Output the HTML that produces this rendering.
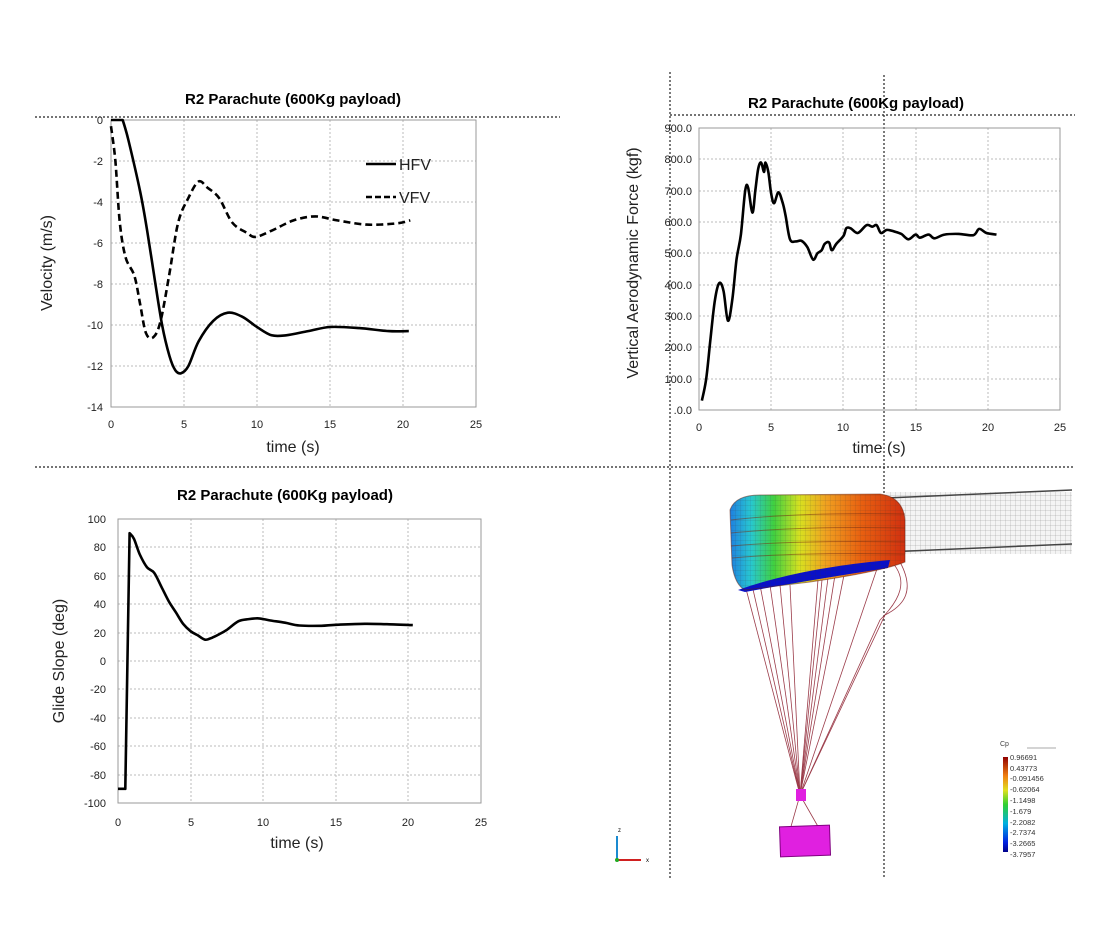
<!DOCTYPE html>
<html><head><meta charset="utf-8"><style>
html,body{margin:0;padding:0;background:#fff;}
svg{display:block;font-family:"Liberation Sans",sans-serif;}
.t{font-weight:bold;font-size:15px;text-anchor:middle;}
.tk{font-size:11px;fill:#222;}
.al{font-size:16px;fill:#222;}
.g{stroke:#bbb;stroke-dasharray:2,2;stroke-width:1;}
.dot{stroke:#222;stroke-dasharray:2,2;stroke-width:1.2;}
.ln{fill:none;stroke:#000;stroke-width:2.6;stroke-linejoin:round;}
</style></head><body>
<svg width="1105" height="949" viewBox="0 0 1105 949">
<rect width="1105" height="949" fill="#fff"/>
<defs>
<linearGradient id="cg" x1="0" x2="1" y1="0" y2="0">
<stop offset="0" stop-color="#1e7fe0"/><stop offset="0.12" stop-color="#28c8d0"/>
<stop offset="0.25" stop-color="#40d040"/><stop offset="0.4" stop-color="#d8e020"/>
<stop offset="0.55" stop-color="#f0a020"/><stop offset="0.75" stop-color="#e86010"/>
<stop offset="1" stop-color="#d03010"/></linearGradient>
<linearGradient id="cb" x1="0" x2="0" y1="1" y2="0">
<stop offset="0" stop-color="#00008a"/><stop offset="0.1" stop-color="#0020e0"/>
<stop offset="0.3" stop-color="#00b0e0"/><stop offset="0.5" stop-color="#30d030"/>
<stop offset="0.65" stop-color="#e0e020"/><stop offset="0.8" stop-color="#f08010"/>
<stop offset="1" stop-color="#900000"/></linearGradient>
<pattern id="mesh" width="5" height="5" patternUnits="userSpaceOnUse"><path d="M0 0H5M0 0V5" stroke="#333" stroke-width="0.4" fill="none"/></pattern>
</defs>

<line class="dot" x1="35" y1="117" x2="560" y2="117"/>
<line class="dot" x1="670" y1="115" x2="1075" y2="115"/>
<line class="dot" x1="35" y1="467" x2="1075" y2="467"/>
<line class="dot" x1="670" y1="72" x2="670" y2="878"/>
<line class="dot" x1="884" y1="75" x2="884" y2="878"/>

<!-- Chart 1 -->
<text class="t" x="293" y="104">R2 Parachute (600Kg payload)</text>
<g id="c1">
<line class="g" x1="111" y1="161" x2="476" y2="161"/><line class="g" x1="111" y1="202" x2="476" y2="202"/>
<line class="g" x1="111" y1="243" x2="476" y2="243"/><line class="g" x1="111" y1="284" x2="476" y2="284"/>
<line class="g" x1="111" y1="325" x2="476" y2="325"/><line class="g" x1="111" y1="366" x2="476" y2="366"/>
<line class="g" x1="184" y1="120" x2="184" y2="407"/><line class="g" x1="257" y1="120" x2="257" y2="407"/>
<line class="g" x1="330" y1="120" x2="330" y2="407"/><line class="g" x1="403" y1="120" x2="403" y2="407"/>
<rect x="111" y="120" width="365" height="287" fill="none" stroke="#999"/>
<g class="tk" text-anchor="end">
<text x="103" y="124">0</text><text x="103" y="165">-2</text><text x="103" y="206">-4</text><text x="103" y="247">-6</text>
<text x="103" y="288">-8</text><text x="103" y="329">-10</text><text x="103" y="370">-12</text><text x="103" y="411">-14</text></g>
<g class="tk" text-anchor="middle">
<text x="111" y="428">0</text><text x="184" y="428">5</text><text x="257" y="428">10</text><text x="330" y="428">15</text><text x="403" y="428">20</text><text x="476" y="428">25</text></g>
<text class="al" x="293" y="452" text-anchor="middle">time (s)</text>
<text class="al" transform="translate(52 263) rotate(-90)" text-anchor="middle">Velocity (m/s)</text>
<line x1="366" y1="164" x2="396" y2="164" stroke="#000" stroke-width="2.4"/>
<text x="399" y="170" font-size="16" fill="#222">HFV</text>
<line x1="366" y1="197" x2="396" y2="197" stroke="#000" stroke-width="2.4" stroke-dasharray="6,3"/>
<text x="399" y="203" font-size="16" fill="#222">VFV</text>
</g>

<!-- Chart 2 -->
<text class="t" x="856" y="108">R2 Parachute (600Kg payload)</text>
<g id="c2">
<line class="g" x1="699" y1="159" x2="1060" y2="159"/><line class="g" x1="699" y1="191" x2="1060" y2="191"/>
<line class="g" x1="699" y1="222" x2="1060" y2="222"/><line class="g" x1="699" y1="253" x2="1060" y2="253"/>
<line class="g" x1="699" y1="285" x2="1060" y2="285"/><line class="g" x1="699" y1="316" x2="1060" y2="316"/>
<line class="g" x1="699" y1="347" x2="1060" y2="347"/><line class="g" x1="699" y1="379" x2="1060" y2="379"/>
<line class="g" x1="771" y1="128" x2="771" y2="410"/><line class="g" x1="843" y1="128" x2="843" y2="410"/>
<line class="g" x1="916" y1="128" x2="916" y2="410"/><line class="g" x1="988" y1="128" x2="988" y2="410"/>
<rect x="699" y="128" width="361" height="282" fill="none" stroke="#999"/>
<g class="tk" text-anchor="end">
<text x="692" y="132">900.0</text><text x="692" y="163">800.0</text><text x="692" y="195">700.0</text><text x="692" y="226">600.0</text>
<text x="692" y="257">500.0</text><text x="692" y="289">400.0</text><text x="692" y="320">300.0</text><text x="692" y="351">200.0</text>
<text x="692" y="383">100.0</text><text x="692" y="414">.0.0</text></g>
<g class="tk" text-anchor="middle">
<text x="699" y="431">0</text><text x="771" y="431">5</text><text x="843" y="431">10</text><text x="916" y="431">15</text><text x="988" y="431">20</text><text x="1060" y="431">25</text></g>
<text class="al" x="879" y="453" text-anchor="middle">time (s)</text>
<text class="al" transform="translate(638 263) rotate(-90)" text-anchor="middle">Vertical Aerodynamic Force (kgf)</text>
</g>

<!-- Chart 3 -->
<text class="t" x="285" y="500">R2 Parachute (600Kg payload)</text>
<g id="c3">
<line class="g" x1="118" y1="547" x2="481" y2="547"/><line class="g" x1="118" y1="576" x2="481" y2="576"/>
<line class="g" x1="118" y1="604" x2="481" y2="604"/><line class="g" x1="118" y1="633" x2="481" y2="633"/>
<line class="g" x1="118" y1="661" x2="481" y2="661"/><line class="g" x1="118" y1="689" x2="481" y2="689"/>
<line class="g" x1="118" y1="718" x2="481" y2="718"/><line class="g" x1="118" y1="746" x2="481" y2="746"/>
<line class="g" x1="118" y1="775" x2="481" y2="775"/>
<line class="g" x1="191" y1="519" x2="191" y2="803"/><line class="g" x1="263" y1="519" x2="263" y2="803"/>
<line class="g" x1="336" y1="519" x2="336" y2="803"/><line class="g" x1="408" y1="519" x2="408" y2="803"/>
<rect x="118" y="519" width="363" height="284" fill="none" stroke="#999"/>
<g class="tk" text-anchor="end">
<text x="106" y="523">100</text><text x="106" y="551">80</text><text x="106" y="580">60</text><text x="106" y="608">40</text>
<text x="106" y="637">20</text><text x="106" y="665">0</text><text x="106" y="693">-20</text><text x="106" y="722">-40</text>
<text x="106" y="750">-60</text><text x="106" y="779">-80</text><text x="106" y="807">-100</text></g>
<g class="tk" text-anchor="middle">
<text x="118" y="826">0</text><text x="191" y="826">5</text><text x="263" y="826">10</text><text x="336" y="826">15</text><text x="408" y="826">20</text><text x="481" y="826">25</text></g>
<text class="al" x="297" y="848" text-anchor="middle">time (s)</text>
<text class="al" transform="translate(64 661) rotate(-90)" text-anchor="middle">Glide Slope (deg)</text>
</g>

<!-- Parachute illustration -->
<g>
<rect x="886" y="492" width="186" height="62" fill="#f4f4f4"/>
<rect x="886" y="492" width="186" height="62" fill="url(#mesh)" opacity="0.6"/>
<path d="M886 498 L1072 490 M886 552 L1072 544" stroke="#444" stroke-width="1.5"/>
<g stroke="#8a1a2a" stroke-width="0.8" fill="none" opacity="0.85">
<path d="M745 585 L800 795"/><path d="M752 585 L800 795"/><path d="M760 585 L800 795"/><path d="M770 585 L800 795"/>
<path d="M780 585 L800 795"/><path d="M790 585 L800 795"/><path d="M818 580 L800 795"/><path d="M822 580 L800 795"/>
<path d="M828 578 L800 795"/><path d="M835 575 L800 795"/><path d="M845 570 L800 795"/><path d="M880 560 L800 795"/>
<path d="M890 560 C910 580 900 600 880 620 L800 795"/><path d="M900 562 C915 590 905 605 885 615 L800 795"/>
<path d="M800 795 L790 830 M800 795 L820 830"/>
</g>
<path d="M730 510 Q735 495 760 495 L880 494 Q903 497 905 520 L905 562 Q880 572 810 582 L745 590 Q735 585 732 565 Z" fill="url(#cg)"/>
<g stroke="#7a3010" stroke-width="1" opacity="0.5" fill="none">
<path d="M731 520 Q800 512 905 514"/><path d="M731 533 Q800 526 905 528"/><path d="M731 546 Q800 540 905 542"/><path d="M732 558 Q800 552 905 554"/></g>
<path d="M738 590 Q800 568 890 560 L888 568 Q810 580 745 592 Z" fill="#0a10c8"/>
<path d="M730 510 Q735 495 760 495 L880 494 Q903 497 905 520 L905 562 Q880 572 810 582 L745 590 Q735 585 732 565 Z" fill="url(#mesh)" opacity="0.5" stroke="#602010" stroke-width="1"/>
<rect x="796" y="789" width="10" height="12" fill="#e020e0"/>
<rect x="780" y="826" width="50" height="30" fill="#e020e0" stroke="#800080" transform="rotate(-2 805 841)"/>
<rect x="1003" y="757" width="5" height="95" fill="url(#cb)"/>
<text x="1000" y="746" font-size="7" fill="#444">Cp</text>
<line x1="1027" y1="748" x2="1056" y2="748" stroke="#aaa"/>
<g font-size="7.5" fill="#333">
<text x="1010" y="760">0.96691</text><text x="1010" y="771">0.43773</text><text x="1010" y="781">-0.091456</text>
<text x="1010" y="792">-0.62064</text><text x="1010" y="803">-1.1498</text><text x="1010" y="814">-1.679</text>
<text x="1010" y="825">-2.2082</text><text x="1010" y="835">-2.7374</text><text x="1010" y="846">-3.2665</text><text x="1010" y="857">-3.7957</text></g>
<line x1="617" y1="860" x2="617" y2="836" stroke="#1a8ad0" stroke-width="2"/>
<line x1="617" y1="860" x2="641" y2="860" stroke="#d02020" stroke-width="2"/>
<circle cx="617" cy="860" r="2" fill="#2a2"/>
<text x="618" y="832" font-size="6">z</text><text x="646" y="862" font-size="6">x</text>
</g>
</svg>
<script>
function smooth(P,k){var d='M'+P[0][0].toFixed(1)+' '+P[0][1].toFixed(1);
for(var i=0;i<P.length-1;i++){var p1=P[i],p2=P[i+1];
if(i<k){d+=' L'+p2[0].toFixed(1)+' '+p2[1].toFixed(1);continue;}
var p0=(i-1>=k)?P[i-1]:P[i],p3=P[i+2]||p2;
var c1x=p1[0]+(p2[0]-p0[0])/6,c1y=p1[1]+(p2[1]-p0[1])/6,c2x=p2[0]-(p3[0]-p1[0])/6,c2y=p2[1]-(p3[1]-p1[1])/6;
d+=' C'+c1x.toFixed(1)+' '+c1y.toFixed(1)+' '+c2x.toFixed(1)+' '+c2y.toFixed(1)+' '+p2[0].toFixed(1)+' '+p2[1].toFixed(1);}
return d;}
function draw(gid,pts,fx,fy,dash,k){var P=pts.map(function(p){return [fx(p[0]),fy(p[1])]});
var e=document.createElementNS('http://www.w3.org/2000/svg','path');
e.setAttribute('d',smooth(P,k||0));e.setAttribute('class','ln');if(dash)e.setAttribute('stroke-dasharray',dash);
document.getElementById(gid).appendChild(e);}
var hfv=[[0,0],[0.8,0],[1.2,-1],[2,-3.5],[2.5,-5.5],[3,-7.8],[3.5,-10],[4,-11.5],[4.4,-12.2],[4.8,-12.35],[5.3,-12],[6,-10.8],[7,-9.8],[8,-9.4],[9,-9.6],[10,-10.1],[11,-10.5],[12,-10.5],[13.5,-10.3],[15,-10.1],[17,-10.15],[19,-10.3],[20.4,-10.3]];
var vfv=[[0,-0.3],[0.3,-2],[0.6,-5],[1,-6.7],[1.6,-7.6],[2,-9],[2.4,-10.4],[2.9,-10.6],[3.4,-9.8],[4,-7.5],[4.6,-5],[5.3,-3.8],[6,-3],[6.6,-3.3],[7.4,-3.8],[8.3,-5],[9.3,-5.5],[9.9,-5.7],[11,-5.4],[12.5,-4.9],[14,-4.7],[15.5,-4.9],[17.5,-5.1],[19.5,-5.05],[20.5,-4.9]];
var f1x=function(x){return 111+x*14.6},f1y=function(y){return 120-y*20.5};
draw('c1',hfv,f1x,f1y,null,1);
draw('c1',vfv,f1x,f1y,'7,4');
var fa=[[0.2,30],[0.5,100],[0.8,230],[1.1,350],[1.4,405],[1.7,380],[2.0,285],[2.3,350],[2.6,480],[2.9,560],[3.2,700],[3.4,710],[3.7,630],[3.9,700],[4.1,770],[4.3,790],[4.5,760],[4.6,790],[4.8,760],[5.0,690],[5.2,660],[5.5,695],[5.8,660],[6,620],[6.3,545],[6.7,538],[7.1,540],[7.5,520],[7.9,480],[8.2,500],[8.5,510],[8.7,530],[9,535],[9.2,510],[9.5,530],[10,555],[10.2,580],[10.5,580],[11,565],[11.6,590],[12,585],[12.3,590],[12.6,565],[13,575],[13.5,570],[14,562],[14.5,545],[15,560],[15.3,550],[15.9,560],[16.3,548],[17,560],[18,562],[19,558],[19.4,578],[19.9,565],[20.6,560]];
draw('c2',fa,function(x){return 699+x*14.44},function(y){return 410-y*0.3133});
var gs=[[0,-90],[0.5,-90],[0.8,90],[1.1,86],[1.5,75],[2,66],[2.5,62],[3,52],[3.5,42],[4,34],[4.5,26],[5,21],[5.5,18],[6,15],[6.5,16.5],[7,19],[7.5,22],[8.3,28],[9,29.5],[9.7,30],[10.5,28.5],[11.5,27],[12.5,25],[14,24.8],[15,25.5],[17,26.2],[19,25.8],[20.3,25.3]];
draw('c3',gs,function(x){return 118+x*14.52},function(y){return 661-y*1.42},null,2);
</script>
</body></html>
